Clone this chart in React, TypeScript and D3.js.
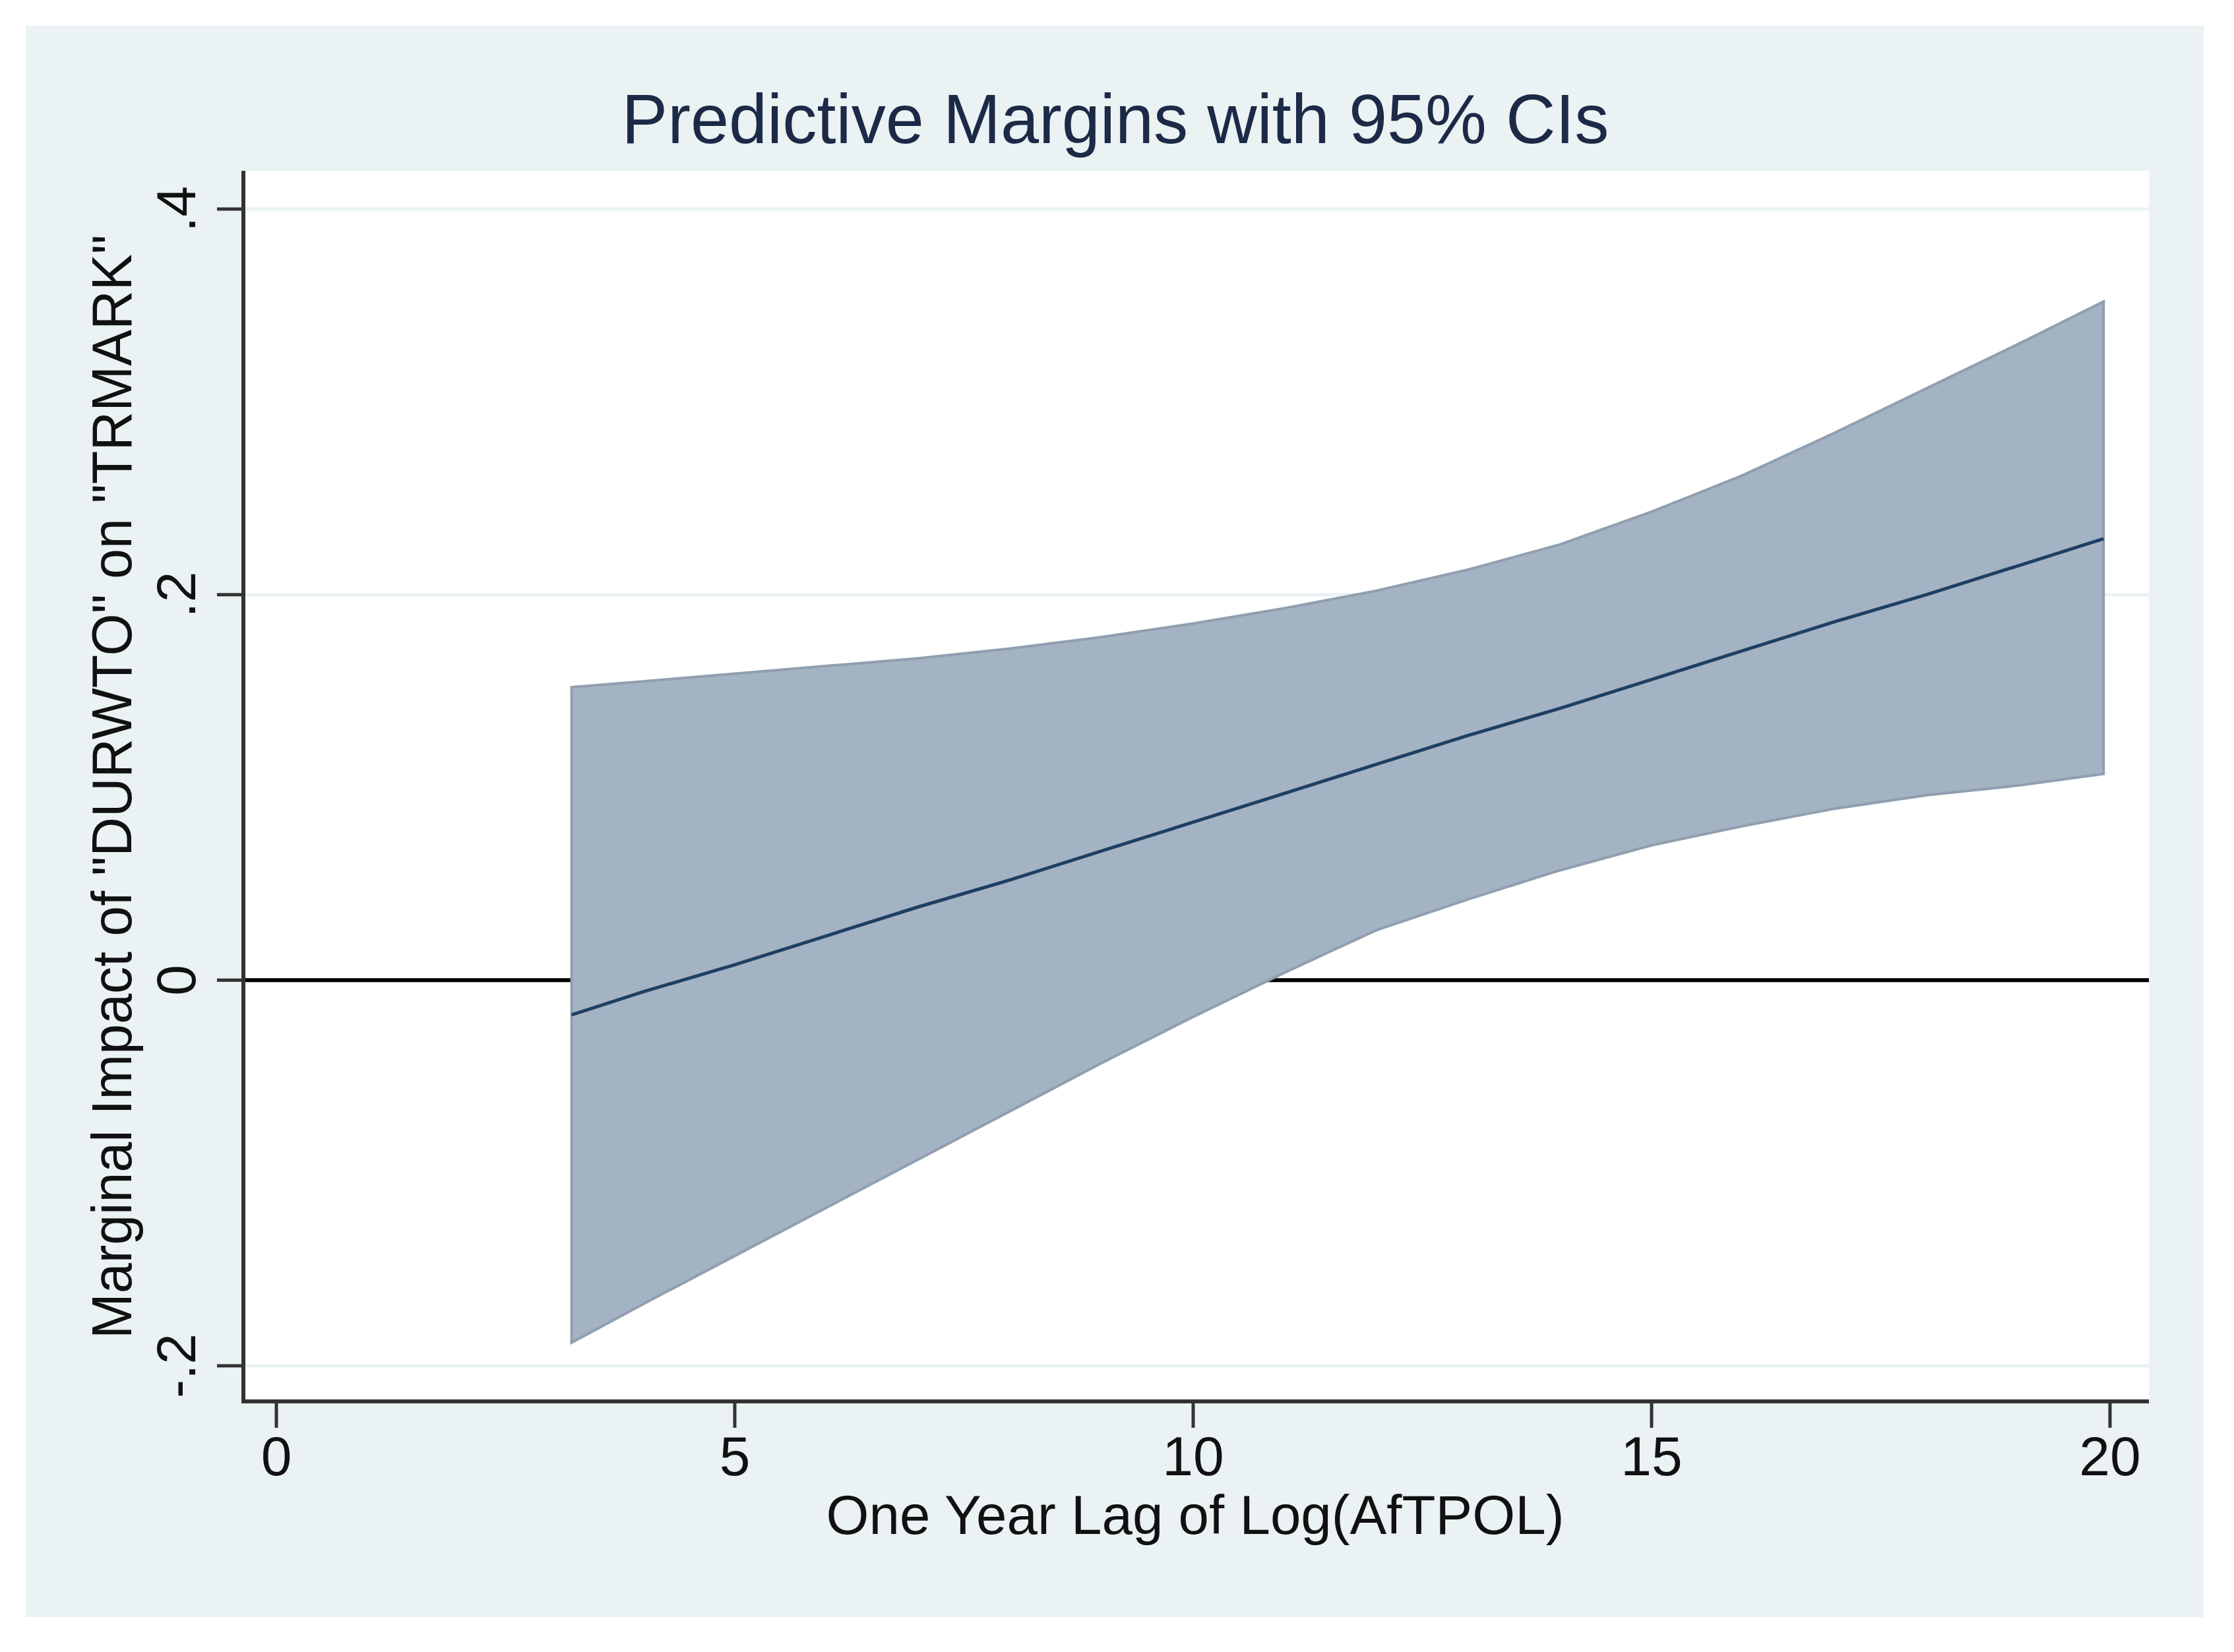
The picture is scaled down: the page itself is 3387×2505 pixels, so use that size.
import React from "react";
import * as d3 from "d3";

const chartTitle = "Predictive Margins with 95% CIs";
const xAxisTitle = "One Year Lag of Log(AfTPOL)";
const yAxisTitle = "Marginal Impact of \"DURWTO\" on \"TRMARK\"";

const xValues = [3.22, 4, 5, 6, 7, 8, 9, 10, 11, 12, 13, 14, 15, 16, 17, 18, 19, 19.93];
const marginValues = [-0.018, -0.006, 0.008, 0.023, 0.038, 0.052, 0.067, 0.082, 0.097, 0.112, 0.127, 0.141, 0.156, 0.171, 0.186, 0.2, 0.215, 0.229];
const upperValues = [0.152, 0.155, 0.159, 0.163, 0.167, 0.172, 0.178, 0.185, 0.193, 0.202, 0.213, 0.226, 0.243, 0.262, 0.284, 0.307, 0.33, 0.352];
const lowerValues = [-0.188, -0.168, -0.143, -0.118, -0.093, -0.068, -0.043, -0.019, 0.004, 0.026, 0.042, 0.057, 0.07, 0.08, 0.089, 0.096, 0.101, 0.107];

const xTicks = [0, 5, 10, 15, 20];
const xTickLabels = ["0", "5", "10", "15", "20"];
const yTicks = [-0.2, 0, 0.2, 0.4];
const yTickLabels = ["-.2", "0", ".2", ".4"];

const W = 3387;
const H = 2505;

export default function App() {
  const x = d3.scaleLinear().domain([0, 20]).range([419, 3199]);
  const y = d3.scaleLinear().domain([-0.2, 0.4]).range([2071, 317]);

  const rows = xValues.map((v, i) => ({
    x: v,
    m: marginValues[i],
    lo: lowerValues[i],
    hi: upperValues[i],
  }));

  const area = d3
    .area<any>()
    .x((d) => x(d.x))
    .y0((d) => y(d.lo))
    .y1((d) => y(d.hi));
  const line = d3
    .line<any>()
    .x((d) => x(d.x))
    .y((d) => y(d.m));

  const plotLeft = 369;
  const plotRight = 3258;
  const plotTop = 259;
  const plotBottom = 2125;
  const font = "'Liberation Sans', Arial, sans-serif";
  const bg = "#EAF2F3";

  return (
    <svg
      width={W}
      height={H}
      viewBox={`0 0 ${W} ${H}`}
      style={{ position: "absolute", left: 0, top: 0, display: "block" }}
    >
      <rect x={0} y={0} width={W} height={H} fill="#ffffff" />
      <rect x={39} y={39} width={3302} height={2413} fill={bg} />
      <rect
        x={plotLeft}
        y={plotTop}
        width={plotRight - plotLeft}
        height={plotBottom - plotTop}
        fill="#ffffff"
      />

      {/* gridlines */}
      {yTicks
        .filter((t) => t !== 0)
        .map((t) => (
          <line
            key={"g" + t}
            x1={plotLeft}
            x2={plotRight}
            y1={y(t)}
            y2={y(t)}
            stroke={bg}
            strokeWidth={5}
          />
        ))}

      {/* zero reference line (drawn beneath the band) */}
      <line
        x1={plotLeft}
        x2={plotRight}
        y1={y(0)}
        y2={y(0)}
        stroke="#000000"
        strokeWidth={6}
      />

      {/* CI band */}
      <path
        d={area(rows) || ""}
        fill="#A3B3C4"
        stroke="#909FAF"
        strokeWidth={4}
        strokeLinejoin="miter"
      />

      {/* margins line */}
      <path
        d={line(rows) || ""}
        fill="none"
        stroke="#1E3F62"
        strokeWidth={5}
      />

      {/* axes */}
      <line
        x1={plotLeft}
        x2={plotLeft}
        y1={plotTop}
        y2={plotBottom + 3}
        stroke="#333333"
        strokeWidth={6}
      />
      <line
        x1={plotLeft - 3}
        x2={plotRight}
        y1={plotBottom}
        y2={plotBottom}
        stroke="#333333"
        strokeWidth={6}
      />

      {yTicks.map((t, i) => (
        <g key={"yt" + t}>
          <line
            x1={plotLeft - 40}
            x2={plotLeft}
            y1={y(t)}
            y2={y(t)}
            stroke="#333333"
            strokeWidth={5}
          />
          <text
            transform={`translate(296,${y(t)}) rotate(-90)`}
            textAnchor="middle"
            fontFamily={font}
            fontSize={84}
            fill="#111111"
          >
            {yTickLabels[i]}
          </text>
        </g>
      ))}

      {xTicks.map((t, i) => (
        <g key={"xt" + t}>
          <line
            x1={x(t)}
            x2={x(t)}
            y1={plotBottom}
            y2={plotBottom + 40}
            stroke="#333333"
            strokeWidth={5}
          />
          <text
            x={x(t)}
            y={2237}
            textAnchor="middle"
            fontFamily={font}
            fontSize={84}
            fill="#111111"
          >
            {xTickLabels[i]}
          </text>
        </g>
      ))}

      {/* titles */}
      <text
        x={1691}
        y={217}
        textAnchor="middle"
        fontFamily={font}
        fontSize={106}
        fill="#1C2A47"
        textLength={1497}
        lengthAdjust="spacingAndGlyphs"
      >
        {chartTitle}
      </text>
      <text
        x={1812}
        y={2326}
        textAnchor="middle"
        fontFamily={font}
        fontSize={84}
        fill="#111111"
        textLength={1119}
        lengthAdjust="spacingAndGlyphs"
      >
        {xAxisTitle}
      </text>
      <text
        transform={`translate(199,1193) rotate(-90)`}
        textAnchor="middle"
        fontFamily={font}
        fontSize={86}
        fill="#111111"
        textLength={1674}
        lengthAdjust="spacingAndGlyphs"
      >
        {yAxisTitle}
      </text>
    </svg>
  );
}
